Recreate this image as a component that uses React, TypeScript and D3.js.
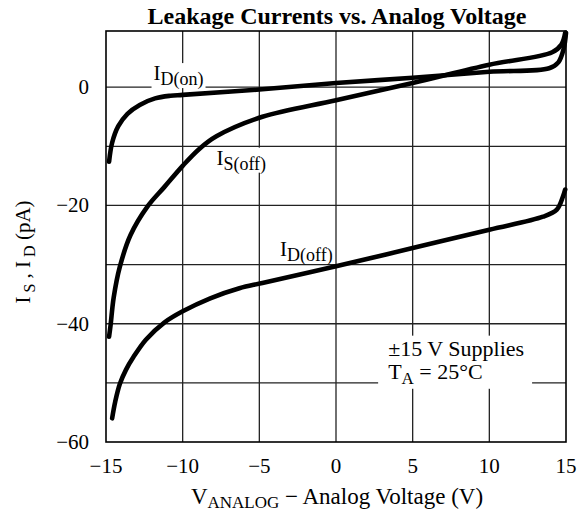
import React, { useEffect, useRef } from 'react';
import * as d3 from 'd3';

const W = 578;
const H = 515;
const FONT = "'Liberation Serif', 'DejaVu Serif', 'Times New Roman', serif";

// axes
const xTicks = [-15, -10, -5, 0, 5, 10, 15];
const yTicks = [-60, -40, -20, 0];
const yGrid = [-50, -40, -30, -20, -10, 0];

// I_D(on)
const vOn = [-14.8, -14.6, -14.2, -13.6, -12.8, -11.8, -10.8, -10, -5, 0, 5, 10, 13.9, 14.5, 14.85, 15];
const iOn = [-12.6, -9.4, -6.6, -4.5, -3.0, -1.9, -1.45, -1.3, -0.4, 0.7, 1.6, 2.6, 3.2, 4.2, 6.5, 9.2];

// I_S(off)
const vSoff = [-14.8, -14.7, -14.5, -14.1, -13.4, -12.3, -11.2, -10, -8.9, -7.8, -4.8, 0, 5, 10, 14.1, 14.7, 14.95];
const iSoff = [-42.2, -40.2, -35.6, -30.4, -25.0, -20.2, -16.9, -13.3, -10.4, -8.3, -5.0, -2.2, 0.7, 3.8, 5.9, 7.2, 9.2];

// I_D(off)
const vDoff = [-14.6, -14.4, -14.1, -13.7, -13.2, -12.4, -11.2, -10, -8.2, -6.3, -4.8, 0, 5, 10, 13.5, 14.4, 14.8, 14.95];
const iDoff = [-56, -53.2, -50.2, -47.8, -45.6, -42.7, -39.8, -37.9, -35.7, -34, -33.1, -30.3, -27.2, -24.1, -21.9, -20.7, -18.5, -17.3];

const series = [
  { v: vOn, i: iOn },
  { v: vSoff, i: iSoff },
  { v: vDoff, i: iDoff },
];

// curve labels: main letter, subscript, anchor in data coords
const labels = [
  { main: 'I', sub: 'D(on)', v: -11.9, i: 1.2 },
  { main: 'I', sub: 'S(off)', v: -7.8, i: -13.1 },
  { main: 'I', sub: 'D(off)', v: -3.65, i: -28.5 },
];

export default function App() {
  const ref = useRef<SVGSVGElement>(null);

  useEffect(() => {
    const svg = d3.select(ref.current);
    svg.selectAll('*').remove();

    const x = d3.scaleLinear().domain([-15, 15]).range([106, 566]);
    const y = d3.scaleLinear().domain([-60, 9.5]).range([442, 31]);

    // grid
    const grid = svg.append('g').attr('stroke', '#222').attr('stroke-width', 1.3);
    grid.selectAll('.vg').data(xTicks.slice(1, -1)).enter().append('line')
      .attr('x1', d => x(d)).attr('x2', d => x(d))
      .attr('y1', y.range()[1]).attr('y2', y.range()[0]);
    grid.selectAll('.hg').data(yGrid).enter().append('line')
      .attr('x1', x.range()[0]).attr('x2', x.range()[1])
      .attr('y1', d => y(d)).attr('y2', d => y(d));

    // curves
    const line = d3.line().curve(d3.curveCatmullRom.alpha(0.5));
    series.forEach(s => {
      const pts = s.v.map((v, k) => [x(v), y(s.i[k])] as [number, number]);
      svg.append('path')
        .attr('d', line(pts))
        .attr('fill', 'none')
        .attr('stroke', '#000')
        .attr('stroke-width', 4.6)
        .attr('stroke-linecap', 'round');
    });

    // labels with white boxes that cut the grid
    labels.forEach(l => {
      const g = svg.append('g');
      const t = g.append('text')
        .attr('x', x(l.v)).attr('y', y(l.i))
        .style('font-family', FONT).attr('font-size', 21);
      t.append('tspan').text(l.main);
      t.append('tspan').attr('dy', 5).attr('font-size', 18).text(l.sub);
      const bb = (t.node() as SVGTextElement).getBBox();
      g.insert('rect', 'text')
        .attr('x', bb.x - 2).attr('y', bb.y + 2)
        .attr('width', bb.width + 4).attr('height', bb.height - 4)
        .attr('fill', '#fff');
    });

    // conditions note
    const ng = svg.append('g');
    const n1 = ng.append('text').attr('x', x(3.4)).attr('y', y(-45.4))
      .style('font-family', FONT).attr('font-size', 22).text('±15 V Supplies');
    const n2 = ng.append('text').attr('x', x(3.4)).attr('y', y(-49.4))
      .style('font-family', FONT).attr('font-size', 22);
    n2.append('tspan').text('T');
    n2.append('tspan').attr('dy', 5).attr('font-size', 17).text('A');
    n2.append('tspan').attr('dy', -5).text(' = 25°C');
    const b1 = (n1.node() as SVGTextElement).getBBox();
    ng.insert('rect', 'text')
      .attr('x', b1.x - 10).attr('y', b1.y)
      .attr('width', b1.width + 18).attr('height', y(-51) - b1.y)
      .attr('fill', '#fff');

    // frame
    svg.append('rect')
      .attr('x', x.range()[0]).attr('y', y.range()[1])
      .attr('width', x.range()[1] - x.range()[0])
      .attr('height', y.range()[0] - y.range()[1])
      .attr('fill', 'none').attr('stroke', '#000').attr('stroke-width', 1.6);

    // tick labels
    svg.append('g').selectAll('text').data(yTicks).enter().append('text')
      .attr('x', 89).attr('y', d => y(d) + 7)
      .attr('text-anchor', 'end')
      .style('font-family', FONT).attr('font-size', 21)
      .text(d => (d < 0 ? '\u2212' : '') + Math.abs(d));
    svg.append('g').selectAll('text').data(xTicks).enter().append('text')
      .attr('x', d => x(d)).attr('y', 473)
      .attr('text-anchor', 'middle')
      .style('font-family', FONT).attr('font-size', 21)
      .text(d => (d < 0 ? '\u2212' : '') + Math.abs(d));

    // title
    svg.append('text').attr('x', 337).attr('y', 24)
      .attr('text-anchor', 'middle')
      .style('font-family', FONT).attr('font-weight', 'bold').attr('font-size', 24)
      .text('Leakage Currents vs. Analog Voltage');

    // x axis title
    const xt = svg.append('text').attr('x', 337).attr('y', 504)
      .attr('text-anchor', 'middle')
      .style('font-family', FONT).attr('font-size', 23);
    xt.append('tspan').text('V');
    xt.append('tspan').attr('dy', 4).attr('font-size', 17).text('ANALOG');
    xt.append('tspan').attr('dy', -4).text(' \u2212 Analog Voltage (V)');

    // y axis title
    const yt = svg.append('text')
      .attr('transform', 'translate(30,252) rotate(-90)')
      .attr('text-anchor', 'middle')
      .style('font-family', FONT).attr('font-size', 21);
    yt.append('tspan').text('I');
    yt.append('tspan').attr('dy', 5).attr('font-size', 16).text(' S');
    yt.append('tspan').attr('dy', -5).text(' , I');
    yt.append('tspan').attr('dy', 5).attr('font-size', 16).text(' D');
    yt.append('tspan').attr('dy', -5).text(' (pA)');
  }, []);

  return (
    <svg ref={ref} width={W} height={H}
      style={{ position: 'absolute', left: 0, top: 0, background: '#fff' }} />
  );
}
